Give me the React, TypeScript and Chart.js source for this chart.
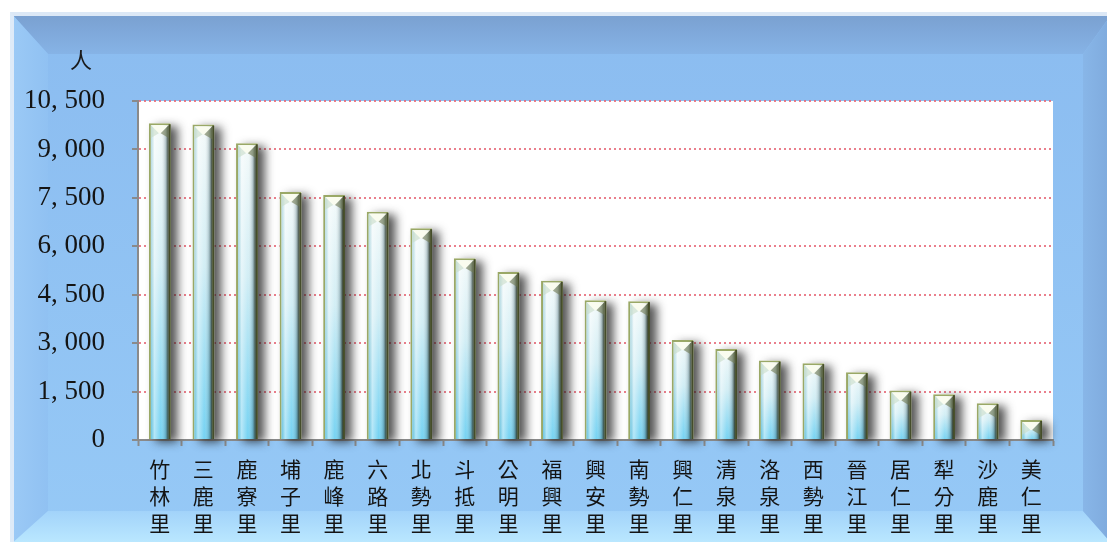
import React, { useEffect, useRef } from 'react';
import { Chart, registerables } from 'chart.js';

Chart.register(...registerables);

const categories = [
  '竹林里', '三鹿里', '鹿寮里', '埔子里', '鹿峰里', '六路里', '北勢里',
  '斗抵里', '公明里', '福興里', '興安里', '南勢里', '興仁里', '清泉里',
  '洛泉里', '西勢里', '晉江里', '居仁里', '犁分里', '沙鹿里', '美仁里',
];
const population = [
  9810, 9770, 9190, 7680, 7590, 7070, 6560,
  5630, 5200, 4930, 4330, 4300, 3100, 2820,
  2460, 2380, 2100, 1530, 1420, 1140, 620,
];
const yMin = 0;
const yMax = 10500;
const yStep = 1500;
const unitLabel = '人';

const CJK = '"Noto Sans CJK TC", "Noto Sans CJK SC", sans-serif';
const NUM = '"Liberation Serif", "DejaVu Serif", serif';

const ok = (...v: number[]) => v.every((n) => Number.isFinite(n));

const framePlugin = {
  id: 'frame',
  beforeDraw(chart: any) {
    const ctx = chart.ctx as CanvasRenderingContext2D;
    const x0 = 10, y0 = 12, x1 = chart.width + 6, y1 = chart.height + 3;
    const bT = 42, bL = 38, bB = 34, bR = 30;
    ctx.save();
    let g = ctx.createLinearGradient(0, y0, 0, y1);
    g.addColorStop(0, '#8bbcf0');
    g.addColorStop(1, '#96c9f6');
    ctx.fillStyle = g;
    ctx.fillRect(x0, y0, x1 - x0, y1 - y0);
    g = ctx.createLinearGradient(0, y0, 0, y0 + bT);
    g.addColorStop(0, '#799fcf');
    g.addColorStop(1, '#86b3e6');
    ctx.fillStyle = g;
    ctx.beginPath();
    ctx.moveTo(x0, y0); ctx.lineTo(x1, y0); ctx.lineTo(x1 - bR, y0 + bT); ctx.lineTo(x0 + bL, y0 + bT);
    ctx.closePath(); ctx.fill();
    g = ctx.createLinearGradient(x0, 0, x0 + bL, 0);
    g.addColorStop(0, '#9ccaf6');
    g.addColorStop(1, '#90c1f2');
    ctx.fillStyle = g;
    ctx.beginPath();
    ctx.moveTo(x0, y0); ctx.lineTo(x0 + bL, y0 + bT); ctx.lineTo(x0 + bL, y1 - bB); ctx.lineTo(x0, y1);
    ctx.closePath(); ctx.fill();
    g = ctx.createLinearGradient(0, y1 - bB, 0, y1);
    g.addColorStop(0, '#a2d3fa');
    g.addColorStop(1, '#bce9ff');
    ctx.fillStyle = g;
    ctx.beginPath();
    ctx.moveTo(x0, y1); ctx.lineTo(x0 + bL, y1 - bB); ctx.lineTo(x1 - bR, y1 - bB); ctx.lineTo(x1, y1);
    ctx.closePath(); ctx.fill();
    g = ctx.createLinearGradient(x1 - bR, 0, x1, 0);
    g.addColorStop(0, '#88b6e8');
    g.addColorStop(1, '#7ea9dc');
    ctx.fillStyle = g;
    ctx.beginPath();
    ctx.moveTo(x1, y0); ctx.lineTo(x1 - bR, y0 + bT); ctx.lineTo(x1 - bR, y1 - bB); ctx.lineTo(x1, y1);
    ctx.closePath(); ctx.fill();
    ctx.strokeStyle = 'rgba(225,236,248,0.95)';
    ctx.lineWidth = 4;
    ctx.strokeRect(x0 + 2, y0 + 2, x1 - x0, y1 - y0);
    const ca = chart.chartArea;
    if (ca && ok(ca.left, ca.top, ca.right, ca.bottom)) {
      ctx.fillStyle = '#ffffff';
      ctx.fillRect(ca.left, ca.top, ca.right - ca.left, ca.bottom - ca.top);
      ctx.fillStyle = '#1a1a1a';
      ctx.font = '22px ' + CJK;
      ctx.textAlign = 'center';
      ctx.textBaseline = 'middle';
      ctx.fillText(unitLabel, ca.left - 57, ca.top - 41);
    }
    ctx.restore();
  },
};

const barStylePlugin = {
  id: 'barStyle',
  beforeDatasetsDraw(chart: any) {
    const ctx = chart.ctx as CanvasRenderingContext2D;
    const meta = chart.getDatasetMeta(0);
    ctx.save();
    ctx.shadowColor = 'rgba(30,30,30,0.75)';
    ctx.shadowBlur = 10;
    ctx.shadowOffsetX = 7;
    ctx.shadowOffsetY = 3;
    ctx.fillStyle = '#ffffff';
    meta.data.forEach((el: any) => {
      if (!ok(el.x, el.y, el.base, el.width)) return;
      const l = el.x - el.width / 2;
      ctx.fillRect(l, el.y, el.width, el.base - el.y);
    });
    ctx.restore();
  },
  afterDatasetsDraw(chart: any) {
    const ctx = chart.ctx as CanvasRenderingContext2D;
    const meta = chart.getDatasetMeta(0);
    ctx.save();
    meta.data.forEach((el: any) => {
      if (!ok(el.x, el.y, el.base, el.width)) return;
      const l = el.x - el.width / 2 + 2;
      const r = el.x + el.width / 2 - 2;
      const t = el.y + 2;
      const b = el.base;
      const w = r - l;
      const h = b - t;
      const hg = ctx.createLinearGradient(l, 0, r, 0);
      hg.addColorStop(0, 'rgba(90,170,190,0.35)');
      hg.addColorStop(0.2, 'rgba(255,255,255,0.45)');
      hg.addColorStop(0.55, 'rgba(255,255,255,0)');
      hg.addColorStop(0.82, 'rgba(60,90,100,0.3)');
      hg.addColorStop(1, 'rgba(40,48,28,0.95)');
      ctx.fillStyle = hg;
      ctx.fillRect(l, t, w, h);
      ctx.fillStyle = 'rgba(60,66,36,0.9)';
      ctx.fillRect(r, el.y + 1, 2, b - el.y - 1);
      const bv = Math.min(8, h / 2);
      ctx.fillStyle = 'rgba(250,252,238,0.97)';
      ctx.beginPath();
      ctx.moveTo(l, t); ctx.lineTo(r, t); ctx.lineTo(r - bv, t + bv); ctx.lineTo(l + bv, t + bv);
      ctx.closePath(); ctx.fill();
      ctx.fillStyle = 'rgba(110,120,80,0.6)';
      ctx.beginPath();
      ctx.moveTo(r, t); ctx.lineTo(r, t + bv * 1.6); ctx.lineTo(r - bv, t + bv);
      ctx.closePath(); ctx.fill();
      ctx.fillStyle = 'rgba(200,220,200,0.6)';
      ctx.beginPath();
      ctx.moveTo(l, t); ctx.lineTo(l + bv, t + bv); ctx.lineTo(l, t + bv * 1.6);
      ctx.closePath(); ctx.fill();
    });
    ctx.restore();
  },
};

function formatTick(v: number) {
  return Number(v).toLocaleString('en-US').replace(',', ', ');
}

export default function App() {
  const ref = useRef<HTMLCanvasElement | null>(null);
  useEffect(() => {
    document.body.style.margin = '0';
    if (!ref.current) return;
    const chart = new Chart(ref.current, {
      type: 'bar',
      data: {
        labels: categories.map((c) => c.split('')),
        datasets: [
          {
            data: population,
            backgroundColor: (c: any) => {
              const ch = c.chart;
              const ys = ch.scales && ch.scales.y;
              if (!ys || c.raw == null) return '#c8eef6';
              const top = ys.getPixelForValue(c.raw);
              const bot = ys.getPixelForValue(0);
              if (!ok(top, bot) || top === bot) return '#c8eef6';
              const g = ch.ctx.createLinearGradient(0, top, 0, bot);
              g.addColorStop(0, '#f4fafa');
              g.addColorStop(0.45, '#d2eef5');
              g.addColorStop(1, '#74d2f2');
              return g;
            },
            borderColor: '#9aa866',
            borderWidth: 2,
            borderSkipped: 'start',
            barPercentage: 0.5,
            categoryPercentage: 1,
          },
        ],
      },
      options: {
        animation: false,
        responsive: false,
        maintainAspectRatio: false,
        layout: { padding: { left: 0, top: 101, right: 54, bottom: 0 } },
        plugins: { legend: { display: false }, tooltip: { enabled: false }, title: { display: false } },
        scales: {
          x: {
            grid: { display: true, drawOnChartArea: false, drawTicks: true, tickLength: 6, tickColor: '#8a8a8a', tickWidth: 2, offset: true },
            border: { display: true, color: '#8a8a8a', width: 2 },
            ticks: {
              color: '#141414',
              font: { family: CJK, size: 21, lineHeight: 1.29 },
              padding: 9,
              maxRotation: 0,
              autoSkip: false,
            },
            afterFit(scale: any) { scale.height = 102; },
          },
          y: {
            min: yMin,
            max: yMax,
            grid: {
              color: 'rgba(230,105,120,0.85)',
              lineWidth: 2,
              tickLength: 6,
              tickColor: '#8a8a8a',
              tickWidth: 2,
              tickBorderDash: [],
            },
            border: { display: true, color: '#8a8a8a', width: 2, dash: [2, 3] },
            ticks: {
              stepSize: yStep,
              color: '#141414',
              font: { family: NUM, size: 27 },
              padding: 27,
              callback: (v: any) => formatTick(v),
            },
            afterFit(scale: any) { scale.width = 138; },
          },
        },
      },
      plugins: [framePlugin, barStylePlugin],
    });
    return () => chart.destroy();
  }, []);
  return (
    <div style={{ width: 1107, height: 542, overflow: 'hidden' }}>
      <canvas ref={ref} width={1107} height={542} style={{ display: 'block' }} />
    </div>
  );
}
